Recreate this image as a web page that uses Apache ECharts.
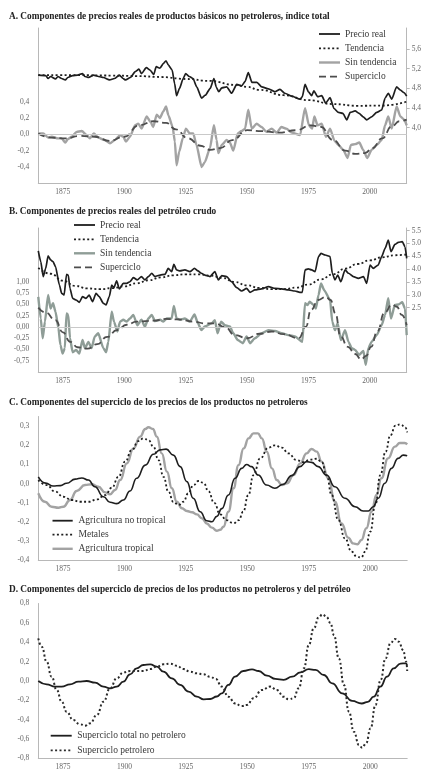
<!DOCTYPE html>
<html><head><meta charset="utf-8">
<script src="https://cdn.jsdelivr.net/npm/echarts@6/dist/echarts.min.js"></script>
<style>html,body{margin:0;padding:0;background:#fff}#c{width:426px;height:770px}</style>
</head><body><div id="c"></div>
<script>
// ---------- tick labels ----------
const YEAR_TICKS = [1875, 1900, 1925, 1950, 1975, 2000];
const A_TICKS_LEFT = [-0.4, -0.2, 0, 0.2, 0.4];
const A_TICKS_RIGHT = [4.0, 4.4, 4.8, 5.2, 5.6];
const B_TICKS_LEFT = [-0.75, -0.5, -0.25, 0, 0.25, 0.5, 0.75, 1.0];
const B_TICKS_RIGHT = [2.5, 3.0, 3.5, 4.0, 4.5, 5.0, 5.5];
const C_TICKS = [-0.4, -0.3, -0.2, -0.1, 0, 0.1, 0.2, 0.3];
const D_TICKS = [-0.8, -0.6, -0.4, -0.2, 0, 0.2, 0.4, 0.6, 0.8];

// ---------- titles / legend names ----------
const TITLES = [
  "A. Componentes de precios reales de productos básicos no petroleros, índice total",
  "B. Componentes de precios reales del petróleo crudo",
  "C. Componentes del superciclo de los precios de los productos no petroleros",
  "D. Componentes del superciclo de precios de los productos no petroleros y del petróleo"
];
const NAMES_AB = ["Precio real", "Tendencia", "Sin tendencia", "Superciclo"];
const NAMES_C = ["Agricultura no tropical", "Metales", "Agricultura tropical"];
const NAMES_D = ["Superciclo total no petrolero", "Superciclo petrolero"];

// ---------- Panel A ----------
const A_PRECIO = [[1865,5.07],[1868,5.06],[1869,5.00],[1870,5.04],[1872,4.99],[1873,5.04],[1874.5,5.00],[1876,4.97],[1877,5.02],[1879,5.06],[1881,5.07],[1883,5.10],[1884,5.04],[1885.5,5.02],[1887.5,5.07],[1889.5,5.04],[1891.5,5.02],[1894,4.97],[1896,5.00],[1898,5.07],[1899.5,5.00],[1900.5,4.97],[1902.5,5.02],[1904.5,5.14],[1906,5.19],[1907,5.10],[1909,5.22],[1910.5,5.17],[1912,5.08],[1913,5.24],[1914.5,5.21],[1916,5.31],[1917,5.36],[1918,5.27],[1919.5,5.17],[1920.5,4.90],[1921.3,4.65],[1922.5,4.80],[1924,5.00],[1925,5.10],[1926.5,5.04],[1928,5.00],[1929.5,4.83],[1931.5,4.60],[1933,4.66],[1935,4.80],[1936.5,5.00],[1937.5,4.82],[1938.5,4.73],[1939.7,4.81],[1941.7,4.83],[1943.7,4.70],[1945.8,4.88],[1947.8,4.85],[1949.2,4.94],[1950.5,5.12],[1952,4.92],[1954,4.92],[1956,4.83],[1958.7,4.79],[1961.4,4.73],[1963.4,4.78],[1965.4,4.70],[1968.2,4.64],[1971.6,4.58],[1972.5,4.63],[1973.6,4.88],[1975,4.73],[1976.3,4.65],[1977.2,4.75],[1978.7,4.63],[1980.4,4.65],[1982,4.50],[1983.8,4.61],[1985.4,4.39],[1987.2,4.31],[1989,4.29],[1990.6,4.16],[1992,4.31],[1994,4.34],[1995.6,4.29],[1997.3,4.22],[1998.7,4.16],[2000.7,4.22],[2002.8,4.31],[2004.8,4.36],[2006.2,4.60],[2007.5,4.70],[2008.9,4.58],[2010.9,4.83],[2012.3,4.77],[2014,4.71],[2015,4.64]];
const A_TEND = [[1865,5.07],[1880,5.068],[1895,5.06],[1905,5.05],[1915,5.03],[1925,4.99],[1935,4.95],[1945,4.87],[1950,4.83],[1955,4.77],[1965,4.66],[1975,4.56],[1985,4.48],[1995,4.445],[2005,4.45],[2015,4.53]];
const A_SIN = [[1865,0.01],[1867,0.01],[1869,-0.04],[1870.5,-0.03],[1873,-0.05],[1874.5,-0.05],[1876,-0.10],[1877,-0.06],[1878.6,-0.03],[1880.6,0.03],[1882.7,0.04],[1884.7,-0.01],[1886,-0.05],[1887.6,0.01],[1889.4,-0.04],[1892,-0.07],[1894.2,-0.11],[1896.2,-0.07],[1898.3,-0.01],[1899.6,-0.03],[1900.7,-0.09],[1902.3,-0.03],[1904.4,0.11],[1905.7,0.13],[1907.1,0.07],[1909.1,0.22],[1910.7,0.15],[1911.8,0.09],[1913.2,0.24],[1914.5,0.20],[1915.9,0.28],[1917,0.34],[1918,0.23],[1919.7,0.09],[1920.6,-0.09],[1921.3,-0.38],[1922.4,-0.21],[1923.8,-0.05],[1925.1,0.07],[1926.7,0.01],[1928.1,0.01],[1929.4,-0.13],[1931.5,-0.40],[1932.8,-0.34],[1934.9,-0.17],[1936.5,0.11],[1937.6,-0.07],[1938.3,-0.23],[1939.7,-0.13],[1941.7,-0.07],[1943,-0.10],[1944.4,-0.20],[1946.2,0.01],[1947.8,0.04],[1949.2,0.07],[1950.5,0.30],[1951.9,0.07],[1953.9,0.13],[1955.9,0.09],[1957.9,0.03],[1960,0.07],[1962,0.02],[1964,0.09],[1966,0.07],[1968.2,0.02],[1971.6,-0.01],[1973.6,0.32],[1975.2,0.11],[1976.5,0.07],[1977.4,0.22],[1978.7,0.11],[1980.4,0.13],[1982.1,-0.03],[1983.8,0.07],[1985.6,-0.08],[1987.2,-0.13],[1989.2,-0.19],[1990.9,-0.29],[1992.3,-0.13],[1994,-0.12],[1995.7,-0.10],[1997.3,-0.19],[1998.9,-0.29],[2000.7,-0.19],[2002.8,-0.13],[2004.8,-0.07],[2006.2,0.11],[2007.5,0.22],[2008.9,0.07],[2010.9,0.34],[2012.4,0.22],[2014,0.18],[2015,0.11]];
const A_SUPER = [[1865,0.01],[1870,-0.04],[1876,-0.05],[1882,-0.02],[1888,-0.03],[1894,-0.08],[1900,-0.03],[1906,0.11],[1912,0.16],[1917,0.14],[1921,0.06],[1926,-0.05],[1931,-0.14],[1935,-0.19],[1939,-0.17],[1944,-0.07],[1950,0.05],[1956,0.04],[1963,0.02],[1970,0.05],[1976,0.11],[1980,0.09],[1985,-0.07],[1990,-0.20],[1994,-0.24],[1998,-0.23],[2001,-0.17],[2005,-0.05],[2009,0.10],[2012,0.16],[2015,0.18]];

// ---------- Panel B ----------
const B_PRECIO = [[1865,4.71],[1866,4.29],[1867,3.71],[1868,4.03],[1869,4.52],[1870,4.36],[1871,4.29],[1872,4.10],[1873.6,3.38],[1874.5,3.06],[1875.5,2.99],[1876.5,3.80],[1877.2,3.77],[1877.9,3.25],[1879,2.86],[1880.4,2.80],[1881.7,2.71],[1883,2.93],[1884.4,2.86],[1885.7,2.99],[1887.1,2.74],[1888.5,3.06],[1889.8,2.93],[1891.5,2.67],[1892.6,2.61],[1893.9,2.93],[1894.9,3.38],[1895.8,3.28],[1896.9,3.54],[1898,3.23],[1899.6,3.45],[1901,3.45],[1902.3,3.51],[1903.7,3.67],[1905.3,3.58],[1907,3.71],[1908.4,3.58],[1909.8,3.71],[1911.2,3.84],[1912.5,3.71],[1914.6,3.77],[1916.6,3.80],[1917.9,4.03],[1919.3,3.90],[1920.2,4.19],[1921.3,3.97],[1922.7,3.93],[1924.7,3.97],[1926.7,3.90],[1928.6,4.03],[1930,3.93],[1931.4,3.84],[1932.8,3.77],[1934.9,3.71],[1936.9,3.90],[1938.3,3.58],[1939.7,3.75],[1941.7,3.71],[1943.7,3.51],[1945.8,3.28],[1947.8,3.15],[1949.8,3.25],[1951.2,3.10],[1953.2,3.19],[1955.9,3.23],[1958.7,3.32],[1961.4,3.25],[1964.1,3.23],[1966.8,3.19],[1969.5,3.15],[1971.5,3.10],[1972.5,3.10],[1973.6,3.97],[1974.9,4.01],[1976.3,3.97],[1977.7,3.90],[1979.1,4.49],[1980.1,4.61],[1981.8,4.55],[1983.8,4.49],[1984.7,3.84],[1985.8,3.58],[1986.9,3.77],[1988.2,3.51],[1989.9,3.97],[1991.3,3.84],[1993.3,3.71],[1995.3,3.64],[1997.4,3.71],[1998.7,3.45],[2000.1,4.16],[2001.4,4.03],[2003.4,4.16],[2004.8,4.49],[2006.2,4.81],[2007.5,5.13],[2008.6,4.68],[2010.2,4.96],[2011.6,5.04],[2013.2,5.07],[2014.3,4.87],[2015,4.42]];
const B_TEND = [[1865,4.05],[1870,3.82],[1875,3.55],[1880,3.35],[1885,3.25],[1890,3.22],[1895,3.26],[1900,3.33],[1905,3.45],[1910,3.57],[1915,3.68],[1920,3.76],[1925,3.80],[1930,3.80],[1935,3.75],[1940,3.66],[1945,3.50],[1950,3.37],[1955,3.27],[1960,3.22],[1965,3.22],[1970,3.28],[1975,3.40],[1980,3.60],[1985,3.80],[1990,4.02],[1995,4.20],[2000,4.34],[2005,4.46],[2010,4.54],[2015,4.57]];
const B_SIN = [[1865,0.67],[1866,0.19],[1866.8,-0.25],[1867.7,0.12],[1869,0.71],[1870,0.41],[1871,0.53],[1872,0.34],[1873.2,-0.03],[1874,-0.40],[1874.9,-0.59],[1875.8,-0.47],[1876.5,0.30],[1877.2,0.27],[1877.9,-0.25],[1879,-0.56],[1880.4,-0.51],[1881.7,-0.59],[1883,-0.29],[1884,-0.47],[1885.4,-0.33],[1886.7,-0.47],[1888,-0.21],[1889.4,-0.14],[1891.5,-0.47],[1892.6,-0.56],[1893.5,-0.33],[1894.9,0.34],[1895.8,0.12],[1897.2,-0.10],[1898.3,0.12],[1899.6,0.16],[1901,0.12],[1902.3,0.19],[1903.7,0.27],[1905.3,0.04],[1907,0.16],[1908.4,0.01],[1909.8,0.19],[1911.2,0.27],[1912.5,0.13],[1914.6,0.16],[1915.9,0.12],[1917.3,0.19],[1919.3,0.19],[1920.2,0.47],[1921.3,0.19],[1922.7,0.16],[1924.7,0.19],[1926.7,0.12],[1928.6,0.28],[1930,0.08],[1931.4,-0.07],[1932.8,0.01],[1935.6,0.08],[1936.9,0.15],[1938,-0.14],[1939.4,0.12],[1941,0.04],[1943,0.01],[1944.4,-0.14],[1946.2,-0.29],[1948.3,-0.36],[1949.8,-0.21],[1951.2,-0.36],[1953.2,-0.25],[1955.9,-0.14],[1958.7,-0.07],[1961.4,-0.09],[1964.1,-0.14],[1966.8,-0.18],[1969.5,-0.21],[1972.5,-0.33],[1973.6,0.53],[1974.6,0.49],[1975.5,0.56],[1976.9,0.50],[1978,0.41],[1979.1,0.71],[1980.1,0.97],[1981.4,0.82],[1983.8,0.60],[1984.7,0.12],[1985.8,-0.07],[1986.9,0.08],[1988.2,-0.29],[1989.9,-0.07],[1991.3,-0.33],[1992.6,-0.47],[1994,-0.51],[1995.6,-0.62],[1997.4,-0.53],[1998.3,-0.84],[1999.4,-0.47],[2000.7,-0.33],[2002.8,-0.18],[2004.8,0.04],[2006.2,0.27],[2007.5,0.64],[2008.6,0.19],[2010.2,0.49],[2011.6,0.50],[2013.2,0.55],[2014.3,0.41],[2015,-0.18]];
const B_SUPER = [[1865,0.43],[1868,0.32],[1872,0.15],[1875,-0.12],[1878,-0.33],[1881,-0.45],[1885,-0.48],[1889,-0.38],[1893,-0.22],[1897,-0.07],[1901,0.05],[1905,0.12],[1912,0.14],[1917,0.18],[1922,0.17],[1928,0.12],[1933,0.08],[1937,0.08],[1941,0.00],[1945,-0.18],[1950,-0.25],[1955,-0.15],[1960,-0.10],[1965,-0.16],[1971,-0.25],[1974,0.01],[1976,0.38],[1979,0.60],[1982,0.67],[1984,0.60],[1986,0.30],[1988,-0.20],[1991,-0.44],[1994,-0.60],[1996.5,-0.72],[1998.5,-0.64],[2000.5,-0.44],[2003,-0.10],[2006,0.32],[2009,0.50],[2011,0.45],[2013,0.27],[2015,0.04]];

// ---------- Panel C ----------
const C_NOTROP = [[1865,0.036],[1868,0.003],[1871,-0.012],[1874,-0.01],[1876.5,0.002],[1880,0.024],[1882.7,0.03],[1885.4,0.019],[1888,-0.016],[1891.5,-0.068],[1894.2,-0.097],[1896.9,-0.104],[1899.6,-0.085],[1902.3,-0.038],[1905,0.028],[1908.5,0.097],[1911.8,0.153],[1914.5,0.176],[1917,0.18],[1919.9,0.149],[1922.7,0.089],[1925.4,0.011],[1928,-0.076],[1930.8,-0.146],[1933.5,-0.193],[1935.6,-0.198],[1937.6,-0.17],[1939.6,-0.13],[1942.3,-0.059],[1945,0.028],[1947.7,0.08],[1949.7,0.10],[1951.7,0.089],[1954.4,0.045],[1957.8,-0.007],[1961.2,-0.024],[1964.6,-0.003],[1968,0.042],[1971.4,0.089],[1974.1,0.115],[1976.1,0.111],[1978.8,0.089],[1982.2,0.045],[1985.6,-0.016],[1989.7,-0.076],[1993.8,-0.12],[1997.1,-0.142],[1999.2,-0.142],[2001.2,-0.12],[2003.2,-0.076],[2005.9,0.002],[2008.6,0.08],[2011.3,0.132],[2013.4,0.149],[2015,0.146]];
const C_METAL = [[1865,0.019],[1868.4,-0.007],[1871.8,-0.041],[1875.2,-0.068],[1878.6,-0.085],[1882,-0.094],[1885.4,-0.094],[1888.8,-0.082],[1892.2,-0.059],[1894.9,-0.021],[1897.6,0.036],[1900.3,0.115],[1903,0.175],[1905.7,0.222],[1907.8,0.236],[1909.8,0.227],[1911.8,0.193],[1913.9,0.123],[1915.9,0.036],[1917.9,-0.041],[1919.9,-0.094],[1922,-0.111],[1924,-0.094],[1926,-0.05],[1928.1,-0.007],[1930.1,0.014],[1932.2,0.005],[1934.2,-0.04],[1936.5,-0.10],[1939,-0.16],[1941.5,-0.19],[1944.4,-0.206],[1946.5,-0.19],[1948.3,-0.146],[1950.4,-0.059],[1952.5,0.045],[1955.2,0.132],[1958.6,0.188],[1961.2,0.20],[1964,0.188],[1966.7,0.158],[1970,0.123],[1972.8,0.112],[1975.5,0.125],[1978.2,0.13],[1980.3,0.112],[1982.2,0.045],[1984.3,-0.059],[1987,-0.189],[1989.7,-0.285],[1992.4,-0.354],[1994.5,-0.38],[1996.3,-0.385],[1997.9,-0.354],[2000,-0.25],[2002,-0.111],[2004.1,0.045],[2006.2,0.167],[2008.2,0.253],[2010.2,0.302],[2012.3,0.309],[2014.3,0.292],[2015,0.267]];
const C_TROP = [[1865,-0.05],[1867.7,-0.094],[1870.4,-0.12],[1873.2,-0.125],[1875.2,-0.12],[1877.9,-0.085],[1880.6,-0.038],[1884,-0.007],[1886.7,-0.003],[1889.4,-0.016],[1892.2,-0.045],[1894.2,-0.055],[1896.2,-0.033],[1898.3,0.019],[1901,0.106],[1903.7,0.184],[1906.4,0.245],[1908.5,0.285],[1909.8,0.294],[1911.6,0.285],[1913.2,0.245],[1915.2,0.158],[1917.3,0.063],[1919.3,-0.024],[1921.3,-0.094],[1923.4,-0.128],[1925.4,-0.142],[1927.5,-0.149],[1929.5,-0.16],[1931.5,-0.18],[1933.5,-0.207],[1935.6,-0.229],[1937.6,-0.245],[1939,-0.24],[1940.3,-0.224],[1942.3,-0.146],[1944.4,-0.024],[1946.4,0.097],[1948.5,0.184],[1950.5,0.236],[1952.5,0.262],[1954.3,0.262],[1955.9,0.236],[1957.9,0.167],[1960,0.08],[1962,0.019],[1964,-0.007],[1966.1,0.002],[1968.8,0.045],[1971.5,0.106],[1974.1,0.158],[1976.1,0.181],[1978.2,0.167],[1980.2,0.115],[1982.9,0.028],[1985.6,-0.094],[1988.3,-0.207],[1991,-0.281],[1993,-0.311],[1994.8,-0.315],[1996.4,-0.293],[1998.4,-0.232],[2000.5,-0.146],[2002.5,-0.059],[2004.5,0.028],[2007.2,0.132],[2010,0.193],[2012,0.212],[2014,0.212],[2015,0.205]];

// ---------- Panel D ----------
const D_NOPET = [[1865,0.0],[1868.4,-0.034],[1871.8,-0.058],[1874.5,-0.058],[1877.9,-0.034],[1881.3,-0.007],[1884.7,0.0],[1888.1,-0.017],[1891.5,-0.058],[1894.2,-0.076],[1896.9,-0.058],[1899.6,-0.007],[1902.3,0.069],[1905,0.131],[1907.7,0.165],[1910.5,0.172],[1913.2,0.148],[1915.9,0.096],[1919.3,0.028],[1922.7,-0.041],[1926.1,-0.11],[1929.5,-0.162],[1932.2,-0.189],[1934.9,-0.186],[1937.6,-0.16],[1939.6,-0.127],[1942.3,-0.041],[1945,0.045],[1948.4,0.103],[1951.9,0.12],[1954.6,0.103],[1958,0.055],[1961.4,0.021],[1964.8,0.012],[1968.2,0.045],[1971.6,0.089],[1975,0.122],[1977.7,0.114],[1981.1,0.062],[1984.5,-0.024],[1988.6,-0.127],[1992.6,-0.206],[1996.5,-0.232],[1999,-0.215],[2001.4,-0.162],[2004.1,-0.058],[2006.8,0.045],[2009.5,0.131],[2012.3,0.18],[2014.3,0.182],[2015,0.165]];
const D_PET = [[1865,0.44],[1866.4,0.354],[1868.4,0.2],[1870.4,0.045],[1872.5,-0.093],[1874.5,-0.213],[1876.5,-0.317],[1879.2,-0.403],[1882,-0.447],[1884,-0.461],[1886.1,-0.437],[1888.8,-0.351],[1891.5,-0.213],[1894.2,-0.076],[1896.9,0.028],[1899.6,0.089],[1902.3,0.103],[1905,0.103],[1907.7,0.103],[1910.5,0.124],[1913.2,0.148],[1915.9,0.172],[1918.6,0.179],[1921.3,0.158],[1924,0.124],[1926.7,0.096],[1929.4,0.079],[1932.1,0.069],[1934.8,0.045],[1937.2,0.02],[1939.6,-0.058],[1942.3,-0.162],[1945,-0.231],[1947.7,-0.258],[1949.8,-0.248],[1952.5,-0.179],[1955.9,-0.093],[1959.3,-0.058],[1962,-0.093],[1964.8,-0.162],[1966.8,-0.189],[1968.8,-0.179],[1970.9,-0.076],[1973,0.131],[1975,0.372],[1977,0.544],[1979.1,0.66],[1980.6,0.69],[1982.2,0.66],[1983.8,0.60],[1985.2,0.475],[1987.2,0.234],[1989.3,-0.041],[1991.3,-0.317],[1993.3,-0.523],[1995.4,-0.661],[1996.7,-0.688],[1998.3,-0.643],[2000.1,-0.489],[2002.1,-0.248],[2004.2,0.01],[2006.2,0.234],[2008.2,0.389],[2010,0.434],[2011.6,0.406],[2013.3,0.32],[2014.6,0.2],[2015,0.103]];

// ---------- styling ----------
const FONT = '"Liberation Serif", "DejaVu Serif", serif';
const AXIS_COLOR = '#b8b8b8';
const LABEL_COLOR = '#666';
const DOT = [2, 2.4];
const DASH = [7, 4];
const C_BLACK = '#1e1e1e', C_GRAY = '#a3a3a3', C_GREEN = '#8f9d97', C_DARK = '#4d4d4d';

const GRIDS = [
  {left: 38.3, top: 28, width: 368.4, height: 155.5},
  {left: 38.3, top: 228, width: 368.4, height: 144},
  {left: 38.3, top: 416.5, width: 368.9, height: 144},
  {left: 38.3, top: 603.5, width: 368.9, height: 155}
];

function fmt(dec, sep) {
  return v => {
    let s = Math.abs(v) < 1e-9 ? (0).toFixed(dec) : v.toFixed(dec);
    return sep === ',' ? s.replace('.', ',') : s;
  };
}
function xAx(i) {
  return {
    type: 'value', gridIndex: i, min: 1865, max: 2015,
    axisLine: {show: true, onZero: false, lineStyle: {color: AXIS_COLOR, width: 1}},
    axisTick: {show: false}, splitLine: {show: false},
    axisLabel: {customValues: YEAR_TICKS, fontSize: 7.5, color: LABEL_COLOR, fontFamily: FONT, margin: 5, formatter: v => String(v)}
  };
}
function yAx(i, pos, min, max, ticks, formatter, showTick) {
  return {
    type: 'value', gridIndex: i, position: pos, min: min, max: max,
    axisLine: {show: true, onZero: false, lineStyle: {color: AXIS_COLOR, width: 1}},
    axisTick: {show: !!showTick, length: 3, customValues: ticks, lineStyle: {color: AXIS_COLOR}},
    splitLine: {show: false},
    axisLabel: {customValues: ticks, fontSize: 7.5, color: LABEL_COLOR, fontFamily: FONT, margin: pos === 'left' ? 9 : 5, formatter: formatter}
  };
}
function line(name, data, xi, yi, color, width, type, smooth, z) {
  return {
    name: name, type: 'line', data: data, xAxisIndex: xi, yAxisIndex: yi,
    symbol: 'none', smooth: smooth, smoothMonotone: 'x', z: z || 2, animation: false, silent: true,
    lineStyle: {color: color, width: width, type: type || 'solid', cap: 'butt', join: 'round'}
  };
}
function zeroLine(s) {
  s.markLine = {silent: true, symbol: 'none', animation: false, label: {show: false},
    lineStyle: {color: '#c9c9c9', width: 1, type: 'solid'}, data: [{yAxis: 0}]};
  return s;
}

// legends drawn as graphic elements
function legend(x1, x2, xt, rows) {
  const els = [];
  rows.forEach(r => {
    els.push({type: 'line', silent: true, shape: {x1: x1, y1: r.y, x2: x2, y2: r.y},
      style: {stroke: r.color, lineWidth: r.w, lineDash: r.dash || null, lineCap: 'butt'}});
    els.push({type: 'text', silent: true, x: xt, y: r.y,
      style: {text: r.text, fill: '#3a3a3a', font: '9.5px ' + FONT, verticalAlign: 'middle', align: 'left'}});
  });
  return els;
}
const graphics = [].concat(
  legend(319, 340, 345, [
    {y: 34, text: NAMES_AB[0], color: C_BLACK, w: 1.8},
    {y: 48.3, text: NAMES_AB[1], color: C_BLACK, w: 1.8, dash: DOT},
    {y: 62.5, text: NAMES_AB[2], color: C_GRAY, w: 2.4},
    {y: 76.7, text: NAMES_AB[3], color: C_DARK, w: 1.8, dash: DASH}
  ]),
  legend(74, 95, 100, [
    {y: 225, text: NAMES_AB[0], color: C_BLACK, w: 1.8},
    {y: 239.3, text: NAMES_AB[1], color: C_BLACK, w: 1.8, dash: DOT},
    {y: 253.3, text: NAMES_AB[2], color: C_GREEN, w: 2.4},
    {y: 267.3, text: NAMES_AB[3], color: C_DARK, w: 1.8, dash: DASH}
  ]),
  legend(52.5, 72.7, 78.5, [
    {y: 520.7, text: NAMES_C[0], color: C_BLACK, w: 1.8},
    {y: 534.6, text: NAMES_C[1], color: C_BLACK, w: 1.8, dash: DOT},
    {y: 548.8, text: NAMES_C[2], color: C_GRAY, w: 2.4}
  ]),
  legend(50.7, 71.7, 77.3, [
    {y: 735.7, text: NAMES_D[0], color: C_BLACK, w: 1.8},
    {y: 750.3, text: NAMES_D[1], color: '#2a2a2a', w: 1.8, dash: DOT}
  ])
);

const titleTops = [12, 206.7, 397.7, 584.3];
const chart = echarts.init(document.getElementById('c'), null, {renderer: 'canvas'});
chart.setOption({
  animation: false,
  backgroundColor: '#fff',
  title: TITLES.map((t, i) => ({
    text: t, left: 9, top: titleTops[i], padding: 0,
    textStyle: {fontFamily: FONT, fontWeight: 'bold', fontSize: 9.3, color: '#222', lineHeight: 10}
  })),
  grid: GRIDS.map(g => Object.assign({outerBoundsMode: 'none', containLabel: false}, g)),
  xAxis: [xAx(0), xAx(1), xAx(2), xAx(3)],
  yAxis: [
    yAx(0, 'left', -0.602, 1.301, A_TICKS_LEFT, fmt(1, ','), false),
    yAx(0, 'right', 2.866, 6.026, A_TICKS_RIGHT, fmt(1, ','), true),
    yAx(1, 'left', -1.0, 2.2, B_TICKS_LEFT, fmt(2, ','), false),
    yAx(1, 'right', 0, 5.6, B_TICKS_RIGHT, fmt(1, '.'), true),
    yAx(2, 'left', -0.4, 0.35, C_TICKS, fmt(1, ','), false),
    yAx(3, 'left', -0.8, 0.8, D_TICKS, fmt(1, ','), false)
  ],
  series: [
    zeroLine(line(NAMES_AB[2], A_SIN, 0, 0, C_GRAY, 2.4, 'solid', 0.2, 2)),
    line(NAMES_AB[3], A_SUPER, 0, 0, C_DARK, 1.8, DASH, true, 3),
    line(NAMES_AB[1], A_TEND, 0, 1, C_BLACK, 1.8, DOT, true, 4),
    line(NAMES_AB[0], A_PRECIO, 0, 1, C_BLACK, 1.7, 'solid', 0.2, 5),

    zeroLine(line(NAMES_AB[2] + ' B', B_SIN, 1, 2, C_GREEN, 2.4, 'solid', 0.2, 2)),
    line(NAMES_AB[3] + ' B', B_SUPER, 1, 2, C_DARK, 1.8, DASH, true, 3),
    line(NAMES_AB[1] + ' B', B_TEND, 1, 3, C_BLACK, 1.8, DOT, true, 4),
    line(NAMES_AB[0] + ' B', B_PRECIO, 1, 3, C_BLACK, 1.7, 'solid', 0.2, 5),

    line(NAMES_C[2], C_TROP, 2, 4, C_GRAY, 2.4, 'solid', true, 2),
    line(NAMES_C[0], C_NOTROP, 2, 4, C_BLACK, 1.6, 'solid', true, 3),
    line(NAMES_C[1], C_METAL, 2, 4, C_BLACK, 1.8, DOT, true, 4),

    line(NAMES_D[0], D_NOPET, 3, 5, C_BLACK, 1.8, 'solid', true, 2),
    line(NAMES_D[1], D_PET, 3, 5, '#2a2a2a', 2, DOT, true, 3)
  ],
  graphic: {elements: graphics}
});
</script></body></html>
